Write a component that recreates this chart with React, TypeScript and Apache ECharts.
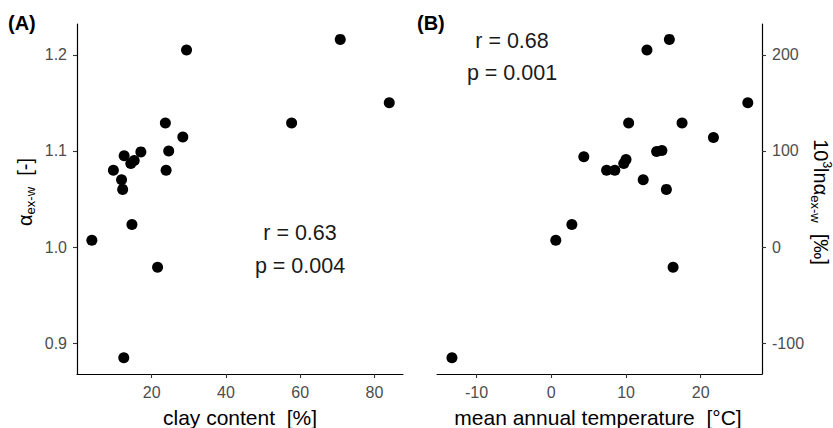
import React, { useEffect, useRef } from "react";
import * as echarts from "echarts";

// Panel A: clay content vs alpha
const clayContent = [29.4, 70.8, 84.0, 57.7, 23.7, 28.4, 24.6, 17.1, 12.6, 15.3, 14.4, 9.7, 23.9, 11.9, 12.2, 14.7, 3.9, 21.6, 12.5];
const alphaExW = [1.205, 1.216, 1.150, 1.129, 1.129, 1.1145, 1.100, 1.099, 1.095, 1.090, 1.087, 1.080, 1.080, 1.070, 1.060, 1.0235, 1.007, 0.979, 0.885];

// Panel B: mean annual temperature vs 10^3 ln alpha
const meanAnnualTemp = [12.8, 15.8, 26.3, 10.35, 17.5, 21.7, 14.8, 14.1, 4.35, 10.0, 9.7, 7.4, 8.5, 12.3, 15.4, 2.75, 0.6, 16.3, -13.3];
const lnAlphaPermil = [205, 216, 150, 129, 129, 114, 100.5, 99.5, 94, 91, 87, 80, 80, 70, 60, 23.5, 7, -21, -115];

const xTicksA = [20, 40, 60, 80];
const yTicksA = [0.9, 1.0, 1.1, 1.2];
const xTicksB = [-10, 0, 10, 20];
const yTicksB = [-100, 0, 100, 200];

const FONT = "Liberation Sans, Arial, sans-serif";

function axisCommon(ticks: number[], fmt?: (v: number) => string) {
  return {
    type: "value" as const,
    axisLine: { show: true, onZero: false, lineStyle: { color: "#000", width: 1.2 } },
    axisTick: { show: true, customValues: ticks, length: 4, lineStyle: { color: "#333", width: 1.1 } },
    axisLabel: {
      customValues: ticks,
      color: "#4d4d4d",
      fontSize: 16,
      fontFamily: FONT,
      margin: 10,
      formatter: fmt ? (v: number) => fmt(v) : undefined,
    },
    splitLine: { show: false },
  };
}

export default function App() {
  const ref = useRef<HTMLDivElement>(null);
  useEffect(() => {
    if (!ref.current) return;
    const chart = echarts.init(ref.current, null, { renderer: "svg" });
    const richBase = {
      a: { fontSize: 20, fontFamily: FONT, color: "#000", lineHeight: 24 },
      s: { fontSize: 13, fontFamily: FONT, color: "#000", lineHeight: 13, verticalAlign: "bottom" },
      sup: { fontSize: 12, fontFamily: FONT, color: "#000", lineHeight: 13, verticalAlign: "top" },
    };
    const pointStyle = { color: "#000", opacity: 1 };
    const option: any = {
      animation: false,
      backgroundColor: "#fff",
      grid: [
        { left: 77, top: 24, width: 326, height: 350 },
        { left: 437, top: 24, width: 325, height: 350 },
      ],
      xAxis: [
        { ...axisCommon(xTicksA), gridIndex: 0, min: -0.1, max: 87.7 },
        { ...axisCommon(xTicksB), gridIndex: 1, min: -15.3, max: 28.2 },
      ],
      yAxis: [
        { ...axisCommon(yTicksA, (v) => v.toFixed(1)), gridIndex: 0, min: 0.868, max: 1.232 },
        { ...axisCommon(yTicksB), gridIndex: 1, min: -132, max: 232, position: "right" },
      ],
      series: [
        {
          type: "scatter",
          xAxisIndex: 0,
          yAxisIndex: 0,
          symbolSize: 11,
          itemStyle: pointStyle,
          data: clayContent.map((x, i) => [x, alphaExW[i]]),
        },
        {
          type: "scatter",
          xAxisIndex: 1,
          yAxisIndex: 1,
          symbolSize: 11,
          itemStyle: pointStyle,
          data: meanAnnualTemp.map((x, i) => [x, lnAlphaPermil[i]]),
        },
      ],
      graphic: [
        { type: "text", left: 8, top: 13, style: { text: "(A)", font: `bold 20px ${FONT}`, fill: "#000" } },
        { type: "text", left: 417, top: 13, style: { text: "(B)", font: `bold 20px ${FONT}`, fill: "#000" } },
        {
          type: "text", x: 300, y: 233,
          style: { text: "r = 0.63", font: `21.5px ${FONT}`, fill: "#1a1a1a", align: "center", verticalAlign: "middle" },
        },
        {
          type: "text", x: 300, y: 266,
          style: { text: "p = 0.004", font: `21.5px ${FONT}`, fill: "#1a1a1a", align: "center", verticalAlign: "middle" },
        },
        {
          type: "text", x: 512, y: 41,
          style: { text: "r = 0.68", font: `21.5px ${FONT}`, fill: "#1a1a1a", align: "center", verticalAlign: "middle" },
        },
        {
          type: "text", x: 512, y: 73,
          style: { text: "p = 0.001", font: `21.5px ${FONT}`, fill: "#1a1a1a", align: "center", verticalAlign: "middle" },
        },
        {
          type: "text", x: 240, y: 417,
          style: { text: "clay content  [%]", font: `21px ${FONT}`, fill: "#000", align: "center", verticalAlign: "middle" },
        },
        {
          type: "text", x: 598, y: 417,
          style: { text: "mean annual temperature  [°C]", font: `21px ${FONT}`, fill: "#000", align: "center", verticalAlign: "middle" },
        },
        {
          type: "text", x: 25, y: 192, rotation: Math.PI / 2,
          style: {
            text: "{a|α}{s|ex-w}{a|  [-]}",
            align: "center", verticalAlign: "middle",
            rich: richBase,
          },
        },
        {
          type: "text", x: 821, y: 202, rotation: -Math.PI / 2,
          style: {
            text: "{a|10}{sup|3}{a|ln}{a|α}{s|ex-w}{a|  [‰]}",
            align: "center", verticalAlign: "middle",
            rich: richBase,
          },
        },
      ],
    };
    chart.setOption(option);
    return () => chart.dispose();
  }, []);
  return (
    <div
      ref={ref}
      style={{ position: "absolute", left: 0, top: 0, width: 833, height: 428, background: "#fff" }}
    />
  );
}
